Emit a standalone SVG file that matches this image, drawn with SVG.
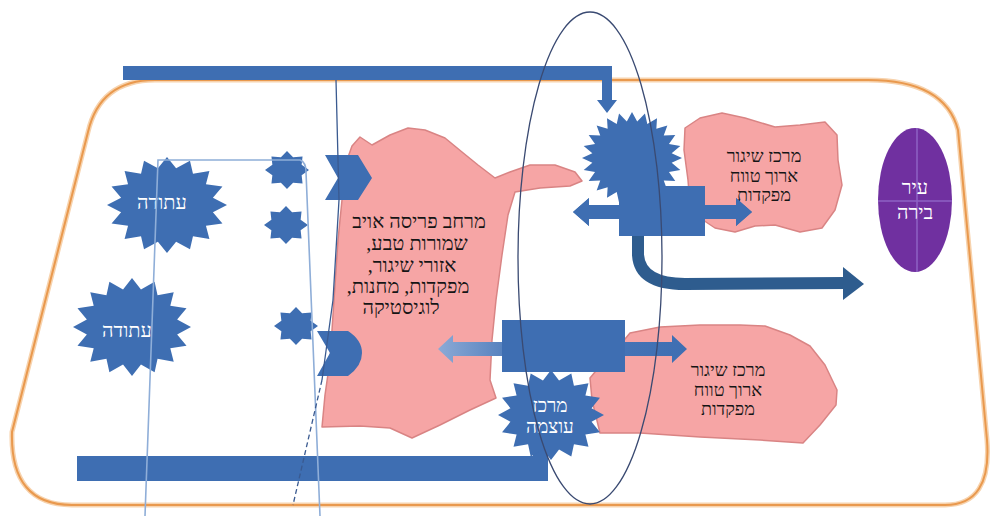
<svg xmlns="http://www.w3.org/2000/svg" xmlns:xlink="http://www.w3.org/1999/xlink" width="991" height="516" viewBox="0 0 991 516">
  <style>
    .blue { fill: #3E6EB2; }
    .dark { fill: #2E5C8E; }
    .pink { fill: #F6A5A5; stroke: #D98484; stroke-width: 1.5; stroke-linejoin: round; }
    .thin-light { fill: none; stroke: #8FAED8; stroke-width: 1.6; }
    .thin-dark { fill: none; stroke: #3A5A90; stroke-width: 1.3; }
    .lbl { font-family: "Liberation Serif", "DejaVu Serif", serif; font-size: 20px; text-anchor: middle; }
    .sm { font-size: 18px; }
    .blk { fill: #151515; }
    .wht { fill: #FFFFFF; }
  </style>
  <defs>
    <!-- unit starbursts, radius 100, scaled per use -->
    <polygon id="star24" points="100,0 79.3,10.4 96.6,25.9 73.9,30.6 86.6,50 63.5,48.7 70.7,70.7 48.7,63.5 50,86.6 30.6,73.9 25.9,96.6 10.4,79.3 0,100 -10.4,79.3 -25.9,96.6 -30.6,73.9 -50,86.6 -48.7,63.5 -70.7,70.7 -63.5,48.7 -86.6,50 -73.9,30.6 -96.6,25.9 -79.3,10.4 -100,0 -79.3,-10.4 -96.6,-25.9 -73.9,-30.6 -86.6,-50 -63.5,-48.7 -70.7,-70.7 -48.7,-63.5 -50,-86.6 -30.6,-73.9 -25.9,-96.6 -10.4,-79.3 0,-100 10.4,-79.3 25.9,-96.6 30.6,-73.9 50,-86.6 48.7,-63.5 70.7,-70.7 63.5,-48.7 86.6,-50 73.9,-30.6 96.6,-25.9 79.3,-10.4"/>
    <polygon id="star16" points="100,0 76.5,15.2 92.4,38.3 64.9,43.3 70.7,70.7 43.3,64.9 38.3,92.4 15.2,76.5 0,100 -15.2,76.5 -38.3,92.4 -43.3,64.9 -70.7,70.7 -64.9,43.3 -92.4,38.3 -76.5,15.2 -100,0 -76.5,-15.2 -92.4,-38.3 -64.9,-43.3 -70.7,-70.7 -43.3,-64.9 -38.3,-92.4 -15.2,-76.5 0,-100 15.2,-76.5 38.3,-92.4 43.3,-64.9 70.7,-70.7 64.9,-43.3 92.4,-38.3 76.5,-15.2"/>
    <polygon id="star8" points="100,0 66.5,27.6 70.7,70.7 27.6,66.5 0,100 -27.6,66.5 -70.7,70.7 -66.5,27.6 -100,0 -66.5,-27.6 -70.7,-70.7 -27.6,-66.5 0,-100 27.6,-66.5 70.7,-70.7 66.5,-27.6"/>
    <linearGradient id="fadeLeft" x1="0" y1="0" x2="1" y2="0">
      <stop offset="0" stop-color="#8CAAD6"/>
      <stop offset="0.3" stop-color="#4F7CBB"/>
      <stop offset="1" stop-color="#3E6EB2"/>
    </linearGradient>
  </defs>

  <rect width="991" height="516" fill="#FFFFFF"/>

  <!-- rounded trapezoid frame -->
  <g id="frame">
    <path d="M155,80 L868,80 Q945,80 958,130 L987,440 Q992,505 945,505 L72,505 Q10,505 12,432 L88,132 Q100,80 155,80 Z" fill="none" stroke="#F7D3AE" stroke-width="5"/>
    <path d="M155,80 L868,80 Q945,80 958,130 L987,440 Q992,505 945,505 L72,505 Q10,505 12,432 L88,132 Q100,80 155,80 Z" fill="none" stroke="#E9994E" stroke-width="2"/>
  </g>

  <!-- pink zones -->
  <g id="enemy-zone">
    <polygon class="pink" points="360,137 372,145 390,135 408,128 425,130 445,138 462,152 478,165 495,178 510,172 530,165 555,165 575,172 582,181 570,186 540,188 515,192 508,215 502,255 496,300 492,340 490,380 496,398 470,410 440,425 412,438 390,428 360,426 322,427 325,395 330,360 334,300 338,240 343,190 347,160 352,146"/>
    <text class="lbl blk" direction="rtl" x="419" y="228">מרחב פריסה אויב</text>
    <text class="lbl blk" direction="rtl" x="417" y="250">שמורות טבע,</text>
    <text class="lbl blk" direction="rtl" x="412" y="272">אזורי שיגור,</text>
    <text class="lbl blk" direction="rtl" x="408" y="293">מפקדות, מחנות,</text>
    <text class="lbl blk" direction="rtl" x="401" y="314">לוגיסטיקה</text>
  </g>

  <g id="launch-center-north">
    <polygon class="pink" points="685,128 700,118 722,113 745,118 775,127 800,125 825,122 837,135 838,160 842,185 835,210 822,228 800,232 775,225 755,226 735,232 715,228 700,218 690,205 688,180 684,150"/>
    <text class="lbl sm blk" direction="rtl" x="764" y="162">מרכז שיגור</text>
    <text class="lbl sm blk" direction="rtl" x="764" y="182">ארוך טווח</text>
    <text class="lbl sm blk" direction="rtl" x="764" y="201">מפקדות</text>
  </g>

  <g id="launch-center-south">
    <polygon class="pink" points="630,333 660,327 700,325 740,325 765,326 790,335 810,346 825,365 837,390 836,405 820,425 803,443 760,440 700,437 640,433 600,433 592,400 590,378 605,360 620,345"/>
    <text class="lbl sm blk" direction="rtl" x="728" y="376">מרכז שיגור</text>
    <text class="lbl sm blk" direction="rtl" x="728" y="396">ארוך טווח</text>
    <text class="lbl sm blk" direction="rtl" x="728" y="415">מפקדות</text>
  </g>

  <!-- reserve forces -->
  <g id="reserve-1">
    <use href="#star16" class="blue" transform="translate(167,205) scale(0.6,0.48)"/>
    <text class="lbl wht" direction="rtl" x="162" y="209">עתודה</text>
  </g>
  <g id="reserve-2">
    <use href="#star16" class="blue" transform="translate(132,327) scale(0.59,0.49)"/>
    <text class="lbl wht" direction="rtl" x="127" y="337">עתודה</text>
  </g>

  <!-- small forward units -->
  <g id="unit-1"><use href="#star8" class="blue" transform="translate(287,170) scale(0.22,0.19)"/></g>
  <g id="unit-2"><use href="#star8" class="blue" transform="translate(286,225) scale(0.22,0.19)"/></g>
  <g id="unit-3"><use href="#star8" class="blue" transform="translate(296,326) scale(0.22,0.19)"/></g>

  <!-- chevrons -->
  <g id="chevron-1"><polygon class="blue" points="325,155 358,155 372,178 358,200 325,200 338,178"/></g>
  <g id="chevron-2"><path class="blue" d="M317,331 L348,331 Q362,340 362,353 Q362,366 348,376 L317,376 L330,353 Z"/></g>

  <!-- connectors: bars and arrows -->
  <g id="connectors">
    <path class="blue" d="M123,66 L612,66 L612,100 L617,100 L607,113 L597,100 L602,100 L602,80 L123,80 Z"/>
    <path class="blue" d="M77,456 L533,456 L533,440 L548,440 L548,481 L77,481 Z"/>
    <path d="M638,236 L638,255 Q640,284 685,284 L846,283" fill="none" stroke="#2E5C8E" stroke-width="12"/>
    <polygon class="dark" points="843,267 864,284 843,300"/>
    <polygon class="blue" points="573,212 589,198 589,205 736,205 736,198 752,212 736,226 736,219 589,219 589,226"/>
    <polygon fill="url(#fadeLeft)" points="438,349 453,335 453,342 672,342 672,335 687,349 672,363 672,356 453,356 453,363"/>
  </g>

  <!-- strike / power centres -->
  <g id="strike-center-north">
    <use href="#star24" class="blue" transform="translate(632,158) scale(0.5,0.46)"/>
    <rect class="blue" x="619" y="186" width="86" height="50"/>
    <polygon class="blue" points="573,212 589,198 589,205 619,205 619,219 589,219 589,226"/>
    <polygon class="blue" points="705,205 736,205 736,198 752,212 736,226 736,219 705,219"/>
  </g>

  <g id="power-center">
    <use href="#star16" class="blue" transform="translate(551,415) scale(0.53,0.45)"/>
    <rect class="blue" x="502" y="320" width="123" height="52"/>
    <text class="lbl wht" direction="rtl" x="550" y="412" style="font-size:19px">מרכז</text>
    <text class="lbl wht" direction="rtl" x="550" y="433" style="font-size:19px">עוצמה</text>
  </g>

  <!-- capital city -->
  <g id="capital">
    <ellipse cx="915" cy="200" rx="37" ry="72" fill="#7030A0"/>
    <line x1="917" y1="128" x2="917" y2="272" stroke="#8E62C4" stroke-width="1.5"/>
    <line x1="878" y1="201" x2="952" y2="201" stroke="#8E62C4" stroke-width="1.5"/>
    <text class="lbl wht" direction="rtl" x="915" y="194">עיר</text>
    <text class="lbl wht" direction="rtl" x="915" y="219">בירה</text>
  </g>

  <!-- guide lines over everything -->
  <g id="guides">
    <path class="thin-light" d="M145,516 L158,160 L300,160 Q306,162 306,172 L320,516"/>
    <path class="thin-dark" d="M336,80 L339,200 L333,300 L322,380"/>
    <path class="thin-dark" d="M322,380 L293,505" stroke-dasharray="5,3"/>
    <ellipse cx="590" cy="258" rx="72" ry="246" fill="none" stroke="#3A4A72" stroke-width="1.3"/>
  </g>
</svg>
